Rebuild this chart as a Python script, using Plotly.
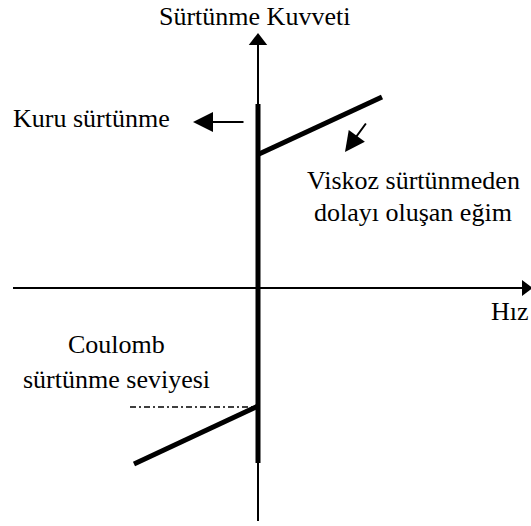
import plotly.graph_objects as go

# Friction characteristic (arbitrary units; 1 unit ~ 10 px)
static_v = [0, 0]
static_f = [18.4, -17.5]
visc_pos_v = [0.1, 12.4]
visc_pos_f = [13.4, 19.1]
visc_neg_v = [0, -12.4]
visc_neg_f = [-11.8, -17.6]
coulomb_v = [-12.8, 0]
coulomb_f = [-11.9, -11.9]

# axis extents (line ends) and arrowhead centres
x_axis = [-24.5, 26.5]
y_axis = [-23.3, 24.4]
x_head = 26.75
y_head = 24.7

FONT = "Liberation Serif, Times New Roman, serif"
FS = 26

fig = go.Figure()

# thin axes (lines)
fig.add_trace(go.Scatter(x=x_axis, y=[0, 0], mode="lines",
                         line=dict(color="black", width=2), hoverinfo="skip"))
fig.add_trace(go.Scatter(x=[0, 0], y=y_axis, mode="lines",
                         line=dict(color="black", width=2), hoverinfo="skip"))
# axis arrowheads
fig.add_trace(go.Scatter(x=[x_head], y=[0], mode="markers", cliponaxis=False,
                         marker=dict(symbol="triangle-right", size=14, color="black",
                                     line=dict(width=0)), hoverinfo="skip"))
fig.add_trace(go.Scatter(x=[0], y=[y_head], mode="markers", cliponaxis=False,
                         marker=dict(symbol="triangle-up", size=16, color="black",
                                     line=dict(width=0)), hoverinfo="skip"))

# thick friction curve parts
for xs, ys in [(static_v, static_f), (visc_pos_v, visc_pos_f), (visc_neg_v, visc_neg_f)]:
    fig.add_trace(go.Scatter(x=xs, y=ys, mode="lines",
                             line=dict(color="black", width=5), hoverinfo="skip"))

# coulomb level dash-dot
fig.add_trace(go.Scatter(x=coulomb_v, y=coulomb_f, mode="lines",
                         line=dict(color="black", width=1.5, dash="6px,3px,2px,3px"),
                         hoverinfo="skip"))

anns = []
# pointer arrows
anns.append(dict(x=-6.5, y=16.6, ax=-1.3, ay=16.6, xref="x", yref="y",
                 axref="x", ayref="y", showarrow=True, arrowhead=2, arrowsize=2.0,
                 arrowwidth=2, arrowcolor="black", text=""))
anns.append(dict(x=8.7, y=13.6, ax=10.9, ay=16.6, xref="x", yref="y",
                 axref="x", ayref="y", showarrow=True, arrowhead=2, arrowsize=2.0,
                 arrowwidth=2, arrowcolor="black", text=""))

def txt(t, x, y, xa="center"):
    anns.append(dict(x=x, y=y, xref="x", yref="y", text=t, showarrow=False,
                     xanchor=xa, yanchor="middle",
                     font=dict(family=FONT, size=FS, color="black")))

txt("Sürtünme Kuvveti", -0.4, 27.2)
txt("Kuru sürtünme", -24.7, 17.0, "left")
txt("Viskoz sürtünmeden", 15.5, 10.8)
txt("dolayı oluşan eğim", 15.5, 7.6)
txt("Hız", 27.25, -2.3, "right")
txt("Coulomb", -14.2, -5.6)
txt("sürtünme seviyesi", -14.2, -9.1)

fig.update_layout(
    annotations=anns,
    width=531, height=526,
    margin=dict(l=0, r=0, t=0, b=0),
    paper_bgcolor="white", plot_bgcolor="white",
    showlegend=False,
    hovermode=False,
    xaxis=dict(range=[-25.8, 27.3], visible=False, fixedrange=True),
    yaxis=dict(range=[-23.8, 28.8], visible=False, fixedrange=True),
)

fig.write_html(
    "out.html",
    config={"displayModeBar": False},
    post_script="document.body.style.margin='0';document.body.style.overflow='hidden';",
)
